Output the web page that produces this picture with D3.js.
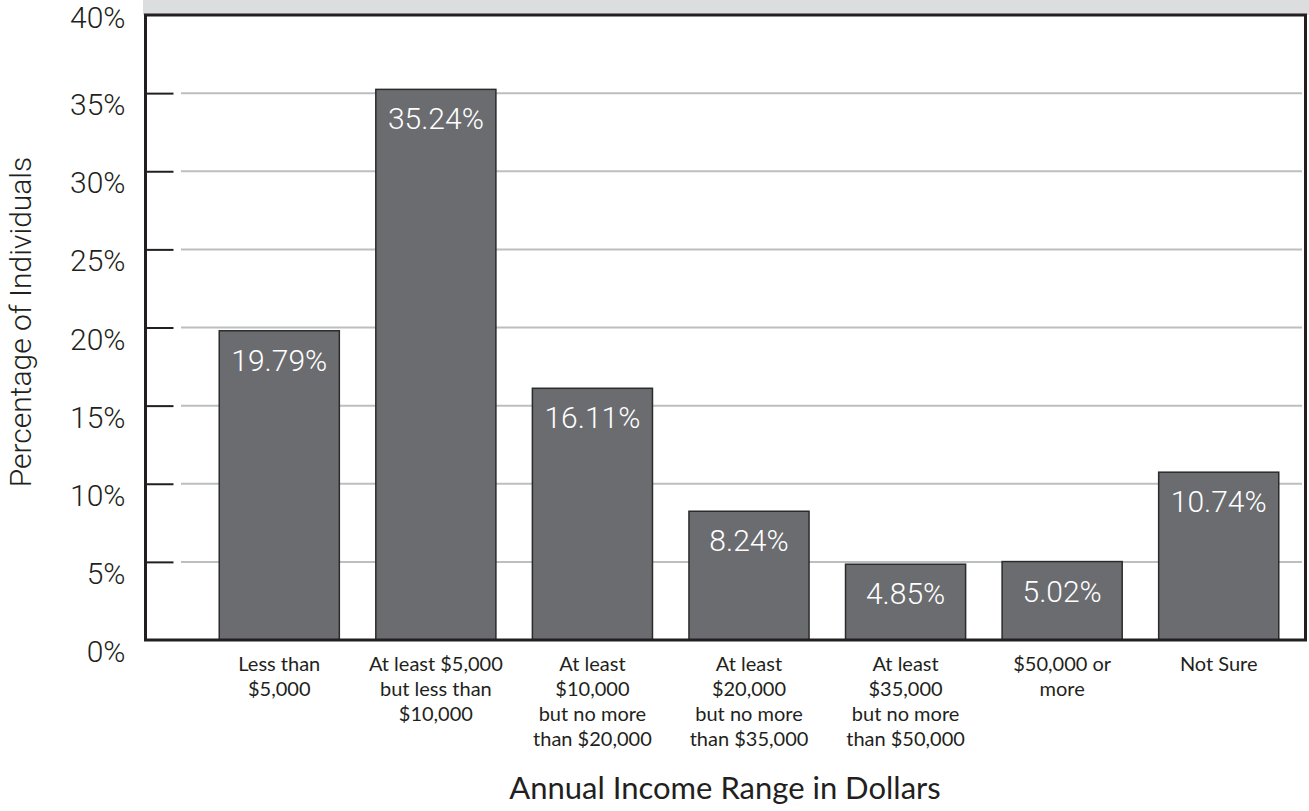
<!DOCTYPE html>
<html>
<head>
<meta charset="utf-8">
<script src="https://cdn.jsdelivr.net/npm/d3@7"></script>
<style>
  html, body { margin: 0; padding: 0; background: #ffffff; }
  svg { display: block; }
</style>
</head>
<body>
<svg id="chart" width="1309" height="811"></svg>
<script>
// Income brackets (multi-line labels) and share of individuals in each
const categories = [
  ["Less than", "$5,000"],
  ["At least $5,000", "but less than", "$10,000"],
  ["At least", "$10,000", "but no more", "than $20,000"],
  ["At least", "$20,000", "but no more", "than $35,000"],
  ["At least", "$35,000", "but no more", "than $50,000"],
  ["$50,000 or", "more"],
  ["Not Sure"]
];
const values = [19.79, 35.24, 16.11, 8.24, 4.85, 5.02, 10.74];
const yTicks = [0, 5, 10, 15, 20, 25, 30, 35, 40];
const yTitle = "Percentage of Individuals";
const xTitle = "Annual Income Range in Dollars";

const svg = d3.select("#chart");

const frame = { left: 145.5, right: 1305.5, top: 15, bottom: 640 };

const keys = categories.map((c, i) => i);
const x = d3.scaleBand()
  .domain(keys)
  .range([201, 1297])
  .paddingInner(0.233)
  .paddingOuter(0.1165);

const y = d3.scaleLinear()
  .domain([0, 40])
  .range([frame.bottom, frame.top]);

// Grey banner along the top edge
svg.append("rect")
  .attr("x", 143).attr("y", 0)
  .attr("width", 1309 - 143).attr("height", frame.top)
  .attr("fill", "#dcdddf");

// Horizontal gridlines
svg.append("g")
  .selectAll("line")
  .data(yTicks.filter(t => t > 0 && t < 40))
  .join("line")
  .attr("x1", 181).attr("x2", 1302)
  .attr("y1", d => y(d)).attr("y2", d => y(d))
  .attr("stroke", "#bdbec0")
  .attr("stroke-width", 2);

// Y axis: short dark ticks and percent labels
const yAxis = d3.axisLeft(y)
  .tickValues(yTicks)
  .tickSize(0)
  .tickPadding(0)
  .tickFormat(d => d + "%");

const yG = svg.append("g")
  .attr("transform", `translate(${frame.left},0)`)
  .call(yAxis);
yG.select(".domain").remove();
yG.selectAll(".tick text")
  .attr("x", -20)
  .attr("dy", d => d === 40 ? "0.42em" : "0.72em")
  .attr("fill", "#231f20")
  .style("font-family", "Roboto, sans-serif")
  .style("font-weight", "300")
  .style("font-size", "30px");
yG.selectAll(".tick")
  .filter(d => d > 0 && d < 40)
  .append("line")
  .attr("x1", 0).attr("x2", 28)
  .attr("stroke", "#231f20")
  .attr("stroke-width", 2);

// Bars
svg.append("g")
  .selectAll("rect")
  .data(values)
  .join("rect")
  .attr("x", (d, i) => x(i))
  .attr("y", d => y(d))
  .attr("width", x.bandwidth())
  .attr("height", d => y(0) - y(d))
  .attr("fill", "#6b6c70")
  .attr("stroke", "#2b2b2b")
  .attr("stroke-width", 1.5);

// Value labels inside the bars
svg.append("g")
  .selectAll("text")
  .data(values)
  .join("text")
  .attr("x", (d, i) => x(i) + x.bandwidth() / 2)
  .attr("y", d => y(d) + 40)
  .attr("text-anchor", "middle")
  .attr("fill", "#ffffff")
  .style("font-family", "Roboto, sans-serif")
  .style("font-weight", "300")
  .style("font-size", "30px")
  .text(d => d.toFixed(2) + "%");

// Plot frame
svg.append("rect")
  .attr("x", frame.left).attr("y", frame.top)
  .attr("width", frame.right - frame.left)
  .attr("height", frame.bottom - frame.top)
  .attr("fill", "none")
  .attr("stroke", "#231f20")
  .attr("stroke-width", 3);

// Category labels under the axis
const xLab = svg.append("g")
  .selectAll("text")
  .data(categories)
  .join("text")
  .attr("x", (d, i) => x(i) + x.bandwidth() / 2)
  .attr("y", 671)
  .attr("text-anchor", "middle")
  .attr("fill", "#231f20")
  .style("font-family", "Lato, sans-serif")
  .style("font-size", "20px");
xLab.selectAll("tspan")
  .data(d => d)
  .join("tspan")
  .attr("x", function () { return this.parentNode.getAttribute("x"); })
  .attr("dy", (d, i) => i === 0 ? 0 : 25)
  .text(d => d);

// Axis titles
svg.append("text")
  .attr("transform", "translate(31,322) rotate(-90)")
  .attr("text-anchor", "middle")
  .attr("fill", "#231f20")
  .style("font-family", "Roboto, sans-serif")
  .style("font-weight", "300")
  .style("font-size", "30px")
  .text(yTitle);

svg.append("text")
  .attr("x", 725)
  .attr("y", 799)
  .attr("text-anchor", "middle")
  .attr("fill", "#231f20")
  .style("font-family", "Lato, sans-serif")
  .style("font-size", "31px")
  .text(xTitle);
</script>
</body>
</html>
